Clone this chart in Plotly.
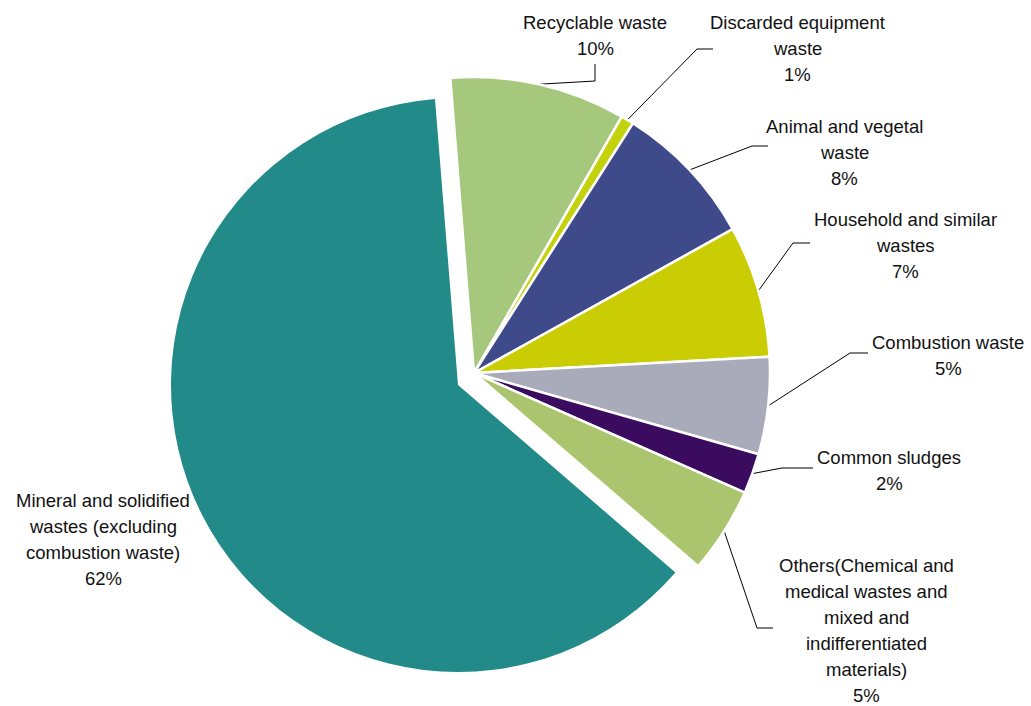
import math
import plotly.graph_objects as go

# ---------------- data ----------------
categories = [
    "Recyclable waste",
    "Discarded equipment waste",
    "Animal and vegetal waste",
    "Household and similar wastes",
    "Combustion waste",
    "Common sludges",
    "Others(Chemical and medical wastes and mixed and indifferentiated materials)",
    "Mineral and solidified wastes (excluding combustion waste)",
]
label_lines = [
    ["Recyclable waste"],
    ["Discarded equipment", "waste"],
    ["Animal and vegetal", "waste"],
    ["Household and similar", "wastes"],
    ["Combustion waste"],
    ["Common sludges"],
    ["Others(Chemical and", "medical wastes and", "mixed and", "indifferentiated", "materials)"],
    ["Mineral and solidified", "wastes (excluding", "combustion waste)"],
]
shares = [9.6, 0.7, 7.9, 7.2, 5.3, 2.2, 4.7, 62.4]

# ---------------- style / layout ----------------
colors = ["#A5C87D", "#C3D20A", "#3F4A8A", "#CACD04", "#A9ABBA", "#3A0B5E", "#AAC56E", "#228A89"]
W, H = 1031, 706
ROTATION = -4.6
MAIN_C, MAIN_R = (474, 373), 296     # un-exploded slices
TEAL_C, TEAL_R = (458, 385), 287     # exploded slice
EXPLODED = 7
LINE_H = 26

label_pos = [(595, 35), (797, 48), (844, 152), (905, 245), (948, 355), (889, 470), (866, 630), (103, 539)]
leader_elbow = [
    [(595, 81), (595, 64)],
    [(697, 49), (713, 49)],
    [(752, 146), (768, 146)],
    [(793, 243), (810, 243)],
    [(850, 353), (868, 353)],
    [(782, 468), (813, 468)],
    [(757, 628), (773, 628)],
    None,
]
FONT = "Liberation Sans, Arial, sans-serif"
TRANSPARENT = "rgba(0,0,0,0)"


def domain(c, r):
    cx, cy = c
    return dict(x=[(cx - r) / W, (cx + r) / W], y=[1 - (cy + r) / H, 1 - (cy - r) / H])


n = len(shares)
fig = go.Figure()

# main pie (all but exploded slice)
fig.add_trace(go.Pie(
    labels=categories, values=shares, sort=False, direction="clockwise", rotation=ROTATION,
    textinfo="none", textposition="none", hoverinfo="label+percent",
    marker=dict(colors=[colors[i] if i != EXPLODED else TRANSPARENT for i in range(n)],
                line=dict(color="white", width=[2.5 if i != EXPLODED else 0 for i in range(n)])),
    domain=domain(MAIN_C, MAIN_R), showlegend=False,
))
# exploded slice
fig.add_trace(go.Pie(
    labels=categories, values=shares, sort=False, direction="clockwise", rotation=ROTATION,
    textinfo="none", textposition="none", hoverinfo="label+percent",
    marker=dict(colors=[colors[i] if i == EXPLODED else TRANSPARENT for i in range(n)],
                line=dict(color="white", width=0)),
    domain=domain(TEAL_C, TEAL_R), showlegend=False,
))

# leader lines + labels
total = sum(shares)
cum = 0.0
lx, ly = [], []
annotations = []
for i, v in enumerate(shares):
    mid = math.radians(ROTATION + 360.0 * (cum + v / 2.0) / total)
    cum += v
    pct = round(100.0 * v / total)
    if leader_elbow[i] is not None:
        sx = MAIN_C[0] + MAIN_R * math.sin(mid)
        sy = MAIN_C[1] - MAIN_R * math.cos(mid)
        pts = [(sx, sy)] + leader_elbow[i]
        lx += [p[0] for p in pts] + [None]
        ly += [p[1] for p in pts] + [None]
    lines = label_lines[i] + [f"{pct}%"]
    m = len(lines)
    for k, line in enumerate(lines):
        annotations.append(dict(
            x=label_pos[i][0], y=label_pos[i][1] + (k - (m - 1) / 2.0) * LINE_H,
            xref="x", yref="y", text=line,
            showarrow=False, align="center", xanchor="center", yanchor="middle",
            font=dict(family=FONT, size=18.5, color="#111111"),
        ))

fig.add_trace(go.Scatter(x=lx, y=ly, mode="lines", line=dict(color="black", width=1),
                         hoverinfo="skip", showlegend=False))

fig.update_layout(
    width=W, height=H, margin=dict(l=0, r=0, t=0, b=0),
    paper_bgcolor="white", plot_bgcolor="rgba(0,0,0,0)",
    xaxis=dict(range=[0, W], visible=False, fixedrange=True),
    yaxis=dict(range=[H, 0], visible=False, fixedrange=True),
    annotations=annotations, showlegend=False,
)

fig.write_html(
    "out.html",
    config={"displayModeBar": False},
    post_script="document.body.style.margin='0';document.body.style.padding='0';"
                "document.body.style.overflow='hidden';",
)
